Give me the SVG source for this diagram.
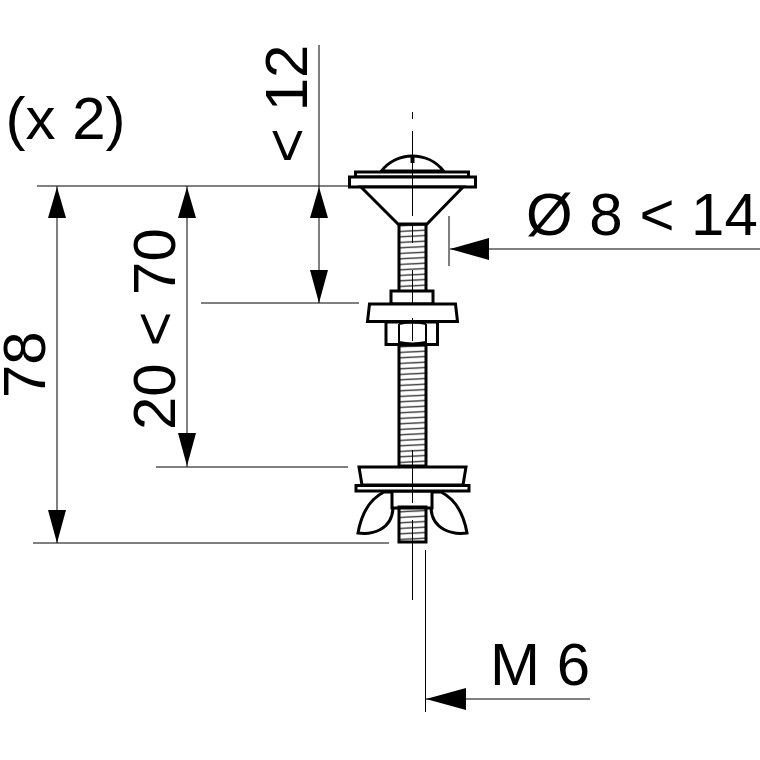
<svg xmlns="http://www.w3.org/2000/svg" width="760" height="760" viewBox="0 0 760 760">
<style>
.t{font-family:"Liberation Sans",Arial,sans-serif;font-size:60px;fill:#000}
.d{fill:none;stroke:#000;stroke-width:1}
.o{fill:#fff;stroke:#000;stroke-width:3;stroke-linejoin:miter}
.n{fill:none;stroke:#000;stroke-width:2}
.a{fill:#000;stroke:none}
.s{fill:url(#th);stroke:#000;stroke-width:3}
</style>
<defs>
<pattern id="th" width="27" height="5.500" patternUnits="userSpaceOnUse" patternTransform="translate(399 228)">
<path d="M0 3.500L27 2" stroke="#333" stroke-width="1.400"/>
</pattern>
</defs>
<rect width="760" height="760" fill="#fff"/>
<g id="bolt">
<g id="shank">
<rect class="s" x="399" y="224" width="27" height="68"/>
<rect class="s" x="399" y="345" width="27" height="121"/>
</g>
<g id="head">
<path class="o" d="M381.500 171C389 161 401 156 412 156C424 156 436 161 443.500 171Z"/>
<rect class="o" x="355.500" y="172" width="113" height="5"/>
<rect class="o" x="349.500" y="177" width="126" height="10"/>
<path class="o" d="M361 187L398 224H427L463 187Z"/>
<rect x="410.500" y="157" width="4" height="6"/>
</g>
<g id="nut-upper">
<rect class="o" x="391" y="291" width="42" height="13"/>
<path class="o" d="M369.500 304H455.500L457.500 321.500H367.500Z"/>
<path class="o" d="M386 322H437.500V344.500H386Z"/>
<path class="n" d="M399 324V343M426 324V343M399 324Q412 321 426 324M399 342Q412 345 426 342"/>
</g>
<g id="wing-nut">
<path class="o" d="M384 492C368 500 361 516 358 533C372 535 392 530 393 508V492Z"/>
<path class="o" d="M441 492C457 500 464 516 467 533C453 535 432 530 431 508V492Z"/>
<rect class="o" x="392" y="491" width="40" height="17"/>
<path class="o" d="M359 467H466L463 485H362Z"/>
<rect class="o" x="356" y="485.500" width="113" height="5.500"/>
<rect class="s" x="399" y="507" width="27" height="35"/>
</g>
</g>
<g id="connectors">
<path class="d" d="M412.500 112V119M412.500 131V216M412.500 226V243M412.500 270V304M412.500 318V341M412.500 450V503M412.500 520V600"/>
<path class="d" d="M319 45V186M37 186H350M201 303H359M156 467H348M33 543H389M449 216V266M760 249H450M425.500 550V712M425.500 699H590"/>
<path class="d" d="M319 186V303M187 186V467M57 186V543"/>
<path class="a" d="M319 187L328 218H310ZM319 303L328 270H310ZM187 187L196 218H178ZM187 466L196 433H178ZM57 187L66 218H48ZM57 543L66 510H48ZM450 249L489 238V260ZM426 699L466 688V710Z"/>
</g>
<g id="labels">
<text class="t" x="5.500" y="139">(x 2)</text>
<text class="t" x="526" y="235">Ø 8 &lt; 14</text>
<text class="t" x="490" y="685">M 6</text>
<text class="t" transform="translate(307 163) rotate(-90)">&lt; 12</text>
<text class="t" transform="translate(175 430) rotate(-90)">20 &lt; 70</text>
<text class="t" transform="translate(45 398) rotate(-90)">78</text>
</g>
</svg>
